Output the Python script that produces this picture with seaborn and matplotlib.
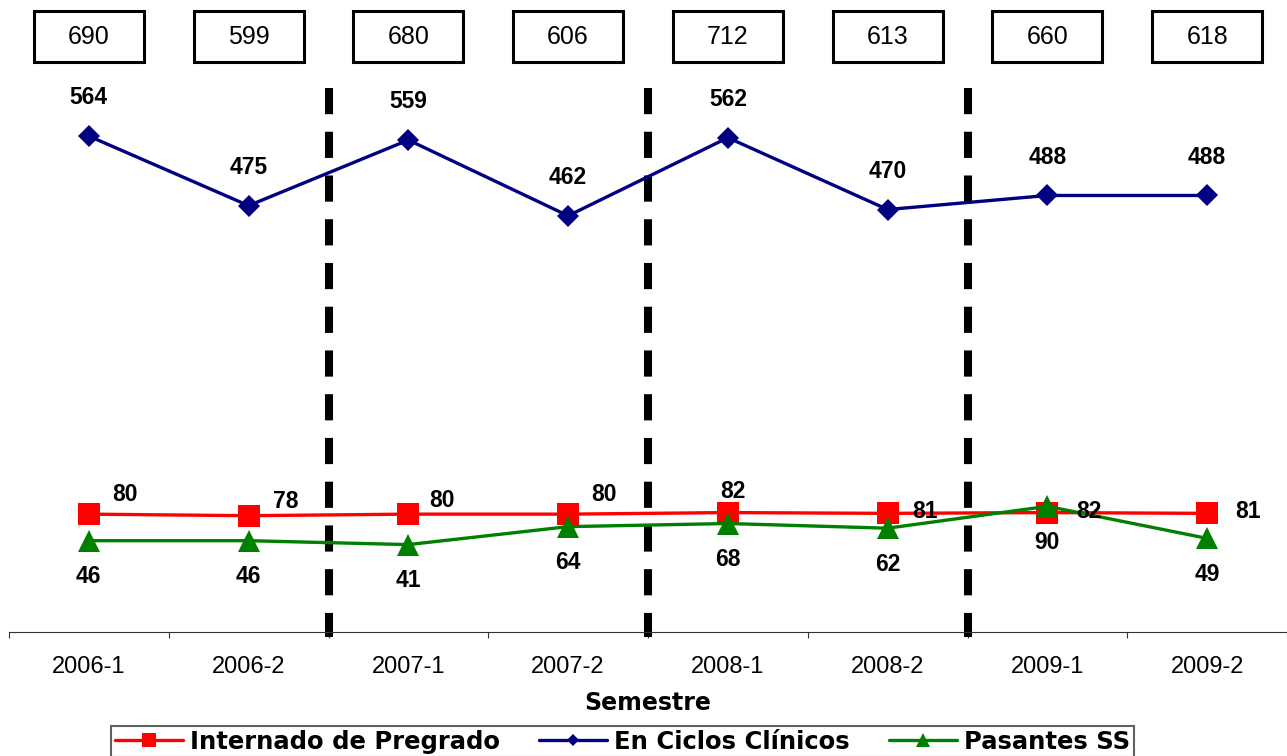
import numpy as np
import seaborn as sns
import matplotlib.pyplot as plt
from matplotlib.patches import Rectangle
from matplotlib.transforms import blended_transform_factory

# data
semestres = ['2006-1', '2006-2', '2007-1', '2007-2', '2008-1', '2008-2', '2009-1', '2009-2']
totales = [690, 599, 680, 606, 712, 613, 660, 618]
internado = [80, 78, 80, 80, 82, 81, 82, 81]
ciclos = [564, 475, 559, 462, 562, 470, 488, 488]
pasantes = [46, 46, 41, 64, 68, 62, 90, 49]

# label offsets (points) for the red series, they move around in the original
red_off = [(26, 14), (27, 10.5), (24.5, 10), (26, 14), (3.5, 15.5), (27, 1), (30, 0.5), (29.5, 1)]

sns.set_theme(style='white')
plt.rcParams['font.family'] = ['Liberation Sans', 'DejaVu Sans']
plt.rcParams['text.color'] = 'black'
plt.rcParams['xtick.color'] = 'black'
plt.rcParams['axes.labelcolor'] = 'black'

fig = plt.figure(figsize=(12.87, 7.56), dpi=100)
ax = fig.add_axes([9 / 1287, 124 / 756, 1278 / 1287, 544 / 756])

x = np.arange(len(semestres))
series = [('Internado de Pregrado', internado, '#FF0000', 's', 16.5),
          ('En Ciclos Clínicos', ciclos, '#000080', 'D', 11),
          ('Pasantes SS', pasantes, '#008000', '^', 16.5)]
for name, vals, col, mk, ms in series:
    sns.lineplot(x=x, y=vals, ax=ax, color=col, marker=mk, markersize=ms,
                 markeredgecolor=col, markeredgewidth=0, linewidth=2.4, label=name)

ytop, ybot = 625.6, -70.9

# semester separators
for xb in [1.5, 3.5, 5.5]:
    ax.plot([xb, xb], [ytop, -77.3], color='black', lw=5.8, dashes=(3.25, 2.18),
            clip_on=False, zorder=1)

# data labels
for i, v in enumerate(ciclos):
    ax.annotate(str(v), (i, v), xytext=(0, 27.5), textcoords='offset points',
                ha='center', va='center', fontsize=16.5, fontweight='bold')
for i, v in enumerate(internado):
    ax.annotate(str(v), (i, v), xytext=red_off[i], textcoords='offset points',
                ha='center', va='center', fontsize=16.5, fontweight='bold')
for i, v in enumerate(pasantes):
    ax.annotate(str(v), (i, v), xytext=(0, -26), textcoords='offset points',
                ha='center', va='center', fontsize=16.5, fontweight='bold')

# totals in boxes above the plot
trans = blended_transform_factory(ax.transData, fig.transFigure)
for i, t in enumerate(totales):
    ax.add_patch(Rectangle((i - 0.345, 694 / 756), 0.69, 51 / 756, transform=trans,
                           fill=False, ec='black', lw=2.2, clip_on=False))
    ax.text(i, 719 / 756, str(t), transform=trans, ha='center', va='center', fontsize=18)

ax.set_xlim(-0.5, 7.5)
ax.set_ylim(ybot, ytop)

ax.set_xticks(x)
ax.set_xticklabels(semestres)
ax.set_xticks(np.arange(-0.5, 8, 1), minor=True)
ax.tick_params(axis='x', which='major', length=0, labelsize=17, pad=17)
ax.tick_params(axis='x', which='minor', length=4.3, width=0.8, color='#333333', bottom=True)
ax.set_yticks([])
for s in ['left', 'top', 'right']:
    ax.spines[s].set_visible(False)
ax.spines['bottom'].set_color('#333333')
ax.spines['bottom'].set_linewidth(0.8)

ax.set_xlabel('Semestre', fontsize=17, fontweight='bold', family='DejaVu Sans', labelpad=10)

leg = ax.legend(loc='upper center', bbox_to_anchor=(622.5 / 1287, 30 / 756),
                bbox_transform=fig.transFigure, ncol=3, frameon=True, fancybox=False,
                edgecolor='#606060', framealpha=1,
                prop={'family': 'DejaVu Sans', 'weight': 'bold', 'size': 17.5},
                handlelength=2.8, handletextpad=0.3, columnspacing=1.6,
                borderpad=0.15, markerscale=0.6, borderaxespad=0)
leg.get_frame().set_linewidth(1.5)

fig.savefig('out.png', dpi=100)
